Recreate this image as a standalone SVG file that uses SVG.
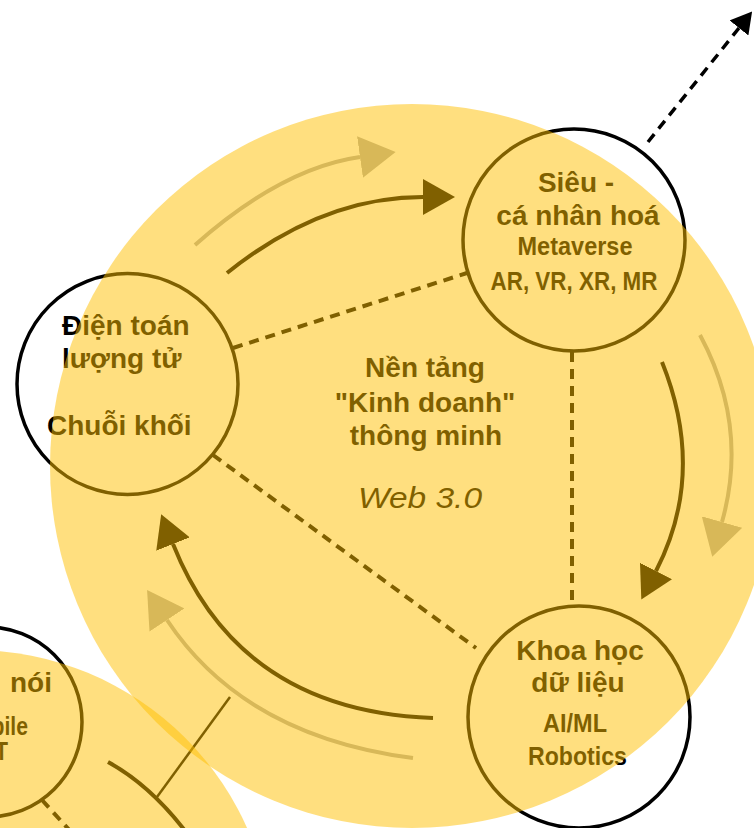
<svg xmlns="http://www.w3.org/2000/svg" width="754" height="828" viewBox="0 0 754 828">
<defs>
<style>
.node{fill:none;stroke:#000;stroke-width:3.5}
.t{font-family:"Liberation Sans",Arial,sans-serif;font-weight:bold;font-size:28px;fill:#000}
.c{font-family:"Liberation Sans",Arial,sans-serif;font-weight:bold;font-size:26px;fill:#000}
.w{font-family:"Liberation Sans",Arial,sans-serif;font-style:italic;font-size:30px;fill:#000}
.dash{fill:none;stroke:#000;stroke-width:4;stroke-dasharray:10 7}
.dark{fill:none;stroke:#000;stroke-width:4}
.light{fill:none;stroke:#b0b0b0;stroke-width:4}
.disc{fill:#ffc000;fill-opacity:0.5}
</style>
<marker id="hd" markerUnits="userSpaceOnUse" viewBox="0 -18 32 36" markerWidth="32" markerHeight="36" refX="0" refY="0" orient="auto"><path d="M0,-18 L32,0 L0,18 Z" fill="#000"/></marker>
<marker id="hl" markerUnits="userSpaceOnUse" viewBox="0 -21 36 42" markerWidth="36" markerHeight="42" refX="0" refY="0" orient="auto"><path d="M0,-21 L36,0 L0,21 Z" fill="#b0b0b0"/></marker>
<marker id="hs" markerUnits="userSpaceOnUse" viewBox="0 -12 21 24" markerWidth="21" markerHeight="24" refX="0" refY="0" orient="auto"><path d="M0,-12 L21,0 L0,12 Z" fill="#000"/></marker>
</defs>
<rect width="754" height="828" fill="#fff"/>
<g id="connectors">
<path class="dash" d="M233,348 L467,273"/>
<path class="dash" d="M213,455 L476,648"/>
<path class="dash" d="M572,352 L572,606"/>
<path class="dash" d="M42,800 L82,844"/>
<path fill="none" stroke="#000" stroke-width="3.5" stroke-dasharray="10 7" d="M648,142 L739,28" marker-end="url(#hs)"/>
<path class="dark" d="M227,273 Q322,197 423,197" marker-end="url(#hd)"/>
<path class="light" d="M195,245 Q282,168 360,157" marker-end="url(#hl)"/>
<path class="dark" d="M662,362 Q706.6,473 656,571" marker-end="url(#hd)"/>
<path class="light" d="M700,335 Q749,426 722,522" marker-end="url(#hl)"/>
<path class="dark" d="M433,718 Q239.6,711.4 173,544" marker-end="url(#hd)"/>
<path class="light" d="M413,758 Q244,736 167,620" marker-end="url(#hl)"/>
<path class="dark" d="M108,762 Q150,785 186,832"/>
<path fill="none" stroke="#000" stroke-width="2.5" d="M230,697 L157,797"/>
</g>
<g id="node-sieu">
<circle class="node" cx="574" cy="240" r="111"/>
<text class="t" x="576" y="192" text-anchor="middle">Siêu -</text>
<text class="t" x="578" y="225" text-anchor="middle">cá nhân hoá</text>
<text class="c" x="575" y="255" text-anchor="middle" textLength="115" lengthAdjust="spacingAndGlyphs">Metaverse</text>
<text class="c" x="574" y="290" text-anchor="middle" textLength="167" lengthAdjust="spacingAndGlyphs">AR, VR, XR, MR</text>
</g>
<g id="node-dien-toan">
<circle class="node" cx="127.5" cy="384" r="110.5"/>
<text class="t" x="62" y="335">Điện toán</text>
<text class="t" x="62" y="368">lượng tử</text>
<text class="t" x="47" y="435">Chuỗi khối</text>
</g>
<g id="node-khoa-hoc">
<circle class="node" cx="579" cy="717" r="111"/>
<text class="t" x="580" y="660" text-anchor="middle">Khoa học</text>
<text class="t" x="578" y="692" text-anchor="middle">dữ liệu</text>
<text class="c" x="575" y="732" text-anchor="middle" textLength="64" lengthAdjust="spacingAndGlyphs">AI/ML</text>
<text class="c" x="577.5" y="765" text-anchor="middle" textLength="99" lengthAdjust="spacingAndGlyphs">Robotics</text>
</g>
<g id="node-center">
<text class="t" x="425" y="377" text-anchor="middle">Nền tảng</text>
<text class="t" x="425" y="412" text-anchor="middle">"Kinh doanh"</text>
<text class="t" x="426" y="445" text-anchor="middle">thông minh</text>
<text class="w" x="420" y="508" text-anchor="middle" textLength="124" lengthAdjust="spacingAndGlyphs">Web 3.0</text>
</g>
<g id="node-lower-left">
<circle class="node" cx="-13" cy="722" r="95"/>
<text class="t" x="10" y="692">nói</text>
<text class="c" x="28" y="735" text-anchor="end" textLength="67" lengthAdjust="spacingAndGlyphs">Mobile</text>
<text class="c" x="8" y="760" text-anchor="end" textLength="32" lengthAdjust="spacingAndGlyphs">IoT</text>
</g>
<g id="discs">
<circle class="disc" cx="412" cy="466" r="362"/>
<circle class="disc" cx="-27" cy="950" r="300"/>
</g>
</svg>
